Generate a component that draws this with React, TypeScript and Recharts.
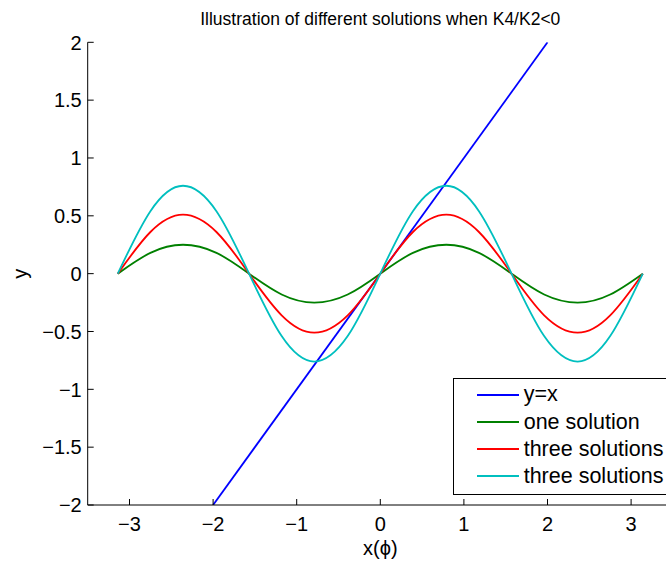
import React from 'react';
import { LineChart, Line, XAxis, YAxis, Legend } from 'recharts';

const phi = [-3.14, -2.75, -2.36, -1.96, -1.57, -1.18, -0.79, -0.39, 0, 0.39, 0.79, 1.18, 1.57, 1.96, 2.36, 2.75, 3.14];
const oneSolution = [0, 0.18, 0.25, 0.18, 0, -0.18, -0.25, -0.18, 0, 0.18, 0.25, 0.18, 0, -0.18, -0.25, -0.18, 0];
const threeSolutionsRed = [0, 0.36, 0.51, 0.36, 0, -0.36, -0.51, -0.36, 0, 0.36, 0.51, 0.36, 0, -0.36, -0.51, -0.36, 0];
const threeSolutionsCyan = [0, 0.54, 0.76, 0.54, 0, -0.54, -0.76, -0.54, 0, 0.54, 0.76, 0.54, 0, -0.54, -0.76, -0.54, 0];
const identityX = [-2, 2];
const identityY = [-2, 2];
const xTicks = [-3, -2, -1, 0, 1, 2, 3];
const yTicks = [-2, -1.5, -1, -0.5, 0, 0.5, 1, 1.5, 2];
const seriesNames = ['y=x', 'one solution', 'three solutions', 'three solutions'];
const seriesColors = ['#0000ff', '#008000', '#ff0000', '#00bfbf'];
const titleText = 'Illustration of different solutions when K4/K2<0';
const xLabel = 'x(\u03d5)';
const yLabel = 'y';

const FONT = '"Liberation Sans", Arial, Helvetica, sans-serif';

const toRows = (xs: number[], ys: number[]) => xs.map((x, i) => ({ x, y: ys[i] }));
const fmt = (v: number) => String(v).replace('-', '\u2212');

const XTick = (props: any) => {
  const { x, y, payload } = props;
  return (
    <g>
      <line x1={x} x2={x} y1={y} y2={y - 6} stroke="#000" strokeWidth={1} />
      <text x={x} y={y + 26} textAnchor="middle" fontSize={20} fontFamily={FONT} fill="#000">
        {fmt(payload.value)}
      </text>
    </g>
  );
};

const YTick = (props: any) => {
  const { x, y, payload } = props;
  return (
    <g>
      <line x1={x} x2={x + 6} y1={y} y2={y} stroke="#000" strokeWidth={1} />
      <text x={x - 6} y={y} dy="0.36em" textAnchor="end" fontSize={20} fontFamily={FONT} fill="#000">
        {fmt(payload.value)}
      </text>
    </g>
  );
};

const LegendBox = (props: any) => {
  const payload = [...(props.payload || [])].sort(
    (a: any, b: any) => seriesColors.indexOf(a.color) - seriesColors.indexOf(b.color)
  );
  return (
    <div
      style={{
        width: 220,
        height: 117,
        border: '1px solid #000',
        background: '#fff',
        boxSizing: 'border-box',
        position: 'relative',
        fontFamily: FONT,
        fontSize: 21.5,
        color: '#000',
      }}
    >
      {payload.map((entry: any, i: number) => (
        <div
          key={i}
          style={{
            position: 'absolute',
            left: 0,
            top: 2 + i * 27.2,
            height: 27.2,
            display: 'flex',
            alignItems: 'center',
            whiteSpace: 'nowrap',
          }}
        >
          <div style={{ marginLeft: 23, width: 42, height: 0, borderTop: `2px solid ${entry.color}` }} />
          <span style={{ marginLeft: 5, lineHeight: '27px' }}>{entry.value}</span>
        </div>
      ))}
    </div>
  );
};

export default function App() {
  return (
    <div
      style={{
        position: 'absolute',
        left: 0,
        top: 0,
        width: 666,
        height: 562,
        overflow: 'hidden',
        background: '#fff',
      }}
    >
      <div
        style={{
          position: 'absolute',
          left: 130.3,
          width: 500,
          top: 11,
          textAlign: 'center',
          fontFamily: FONT,
          fontSize: 17.5,
          lineHeight: '17.5px',
          color: '#000',
          whiteSpace: 'nowrap',
        }}
      >
        {titleText}
      </div>
      <LineChart
        width={700}
        height={562}
        margin={{ top: 42.3, right: 27.1, bottom: 0, left: 0 }}
        style={{ position: 'absolute', left: 0, top: 0 }}
      >
        <XAxis
          type="number"
          dataKey="x"
          domain={[-3.5, 3.5]}
          ticks={xTicks}
          interval={0}
          allowDataOverflow
          height={57}
          tickSize={0}
          tickMargin={0}
          tickLine={false}
          axisLine={{ stroke: '#000', strokeWidth: 1 }}
          tick={<XTick />}
          label={{
            content: (p: any) => (
              <text
                x={p.viewBox.x + p.viewBox.width / 2}
                y={p.viewBox.y + 50}
                textAnchor="middle"
                fontSize={20}
                fontFamily={FONT}
                fill="#000"
              >
                {xLabel}
              </text>
            ),
          }}
        />
        <YAxis
          type="number"
          dataKey="y"
          domain={[-2, 2]}
          ticks={yTicks}
          interval={0}
          allowDataOverflow
          width={87.7}
          tickSize={0}
          tickMargin={0}
          tickLine={false}
          axisLine={{ stroke: '#000', strokeWidth: 1 }}
          tick={<YTick />}
          label={{
            content: (p: any) => {
              const cx = p.viewBox.x + 21;
              const cy = p.viewBox.y + p.viewBox.height / 2;
              return (
                <text
                  x={cx}
                  y={cy}
                  dy="0.3em"
                  textAnchor="middle"
                  fontSize={20}
                  fontFamily={FONT}
                  fill="#000"
                  transform={`rotate(-90 ${cx} ${cy})`}
                >
                  {yLabel}
                </text>
              );
            },
          }}
        />
        <Line
          data={toRows(identityX, identityY)}
          dataKey="y"
          name={seriesNames[0]}
          stroke={seriesColors[0]}
          strokeWidth={1.8}
          dot={false}
          type="linear"
          isAnimationActive={false}
        />
        <Line
          data={toRows(phi, oneSolution)}
          dataKey="y"
          name={seriesNames[1]}
          stroke={seriesColors[1]}
          strokeWidth={1.8}
          dot={false}
          type="natural"
          isAnimationActive={false}
        />
        <Line
          data={toRows(phi, threeSolutionsRed)}
          dataKey="y"
          name={seriesNames[2]}
          stroke={seriesColors[2]}
          strokeWidth={1.8}
          dot={false}
          type="natural"
          isAnimationActive={false}
        />
        <Line
          data={toRows(phi, threeSolutionsCyan)}
          dataKey="y"
          name={seriesNames[3]}
          stroke={seriesColors[3]}
          strokeWidth={1.8}
          dot={false}
          type="natural"
          isAnimationActive={false}
        />
        <Legend
          layout="vertical"
          align="center"
          verticalAlign="middle"
          content={<LegendBox />}
          wrapperStyle={{ position: 'absolute', left: 452.7, top: 378.3, width: 220, height: 117 }}
        />
      </LineChart>
    </div>
  );
}
